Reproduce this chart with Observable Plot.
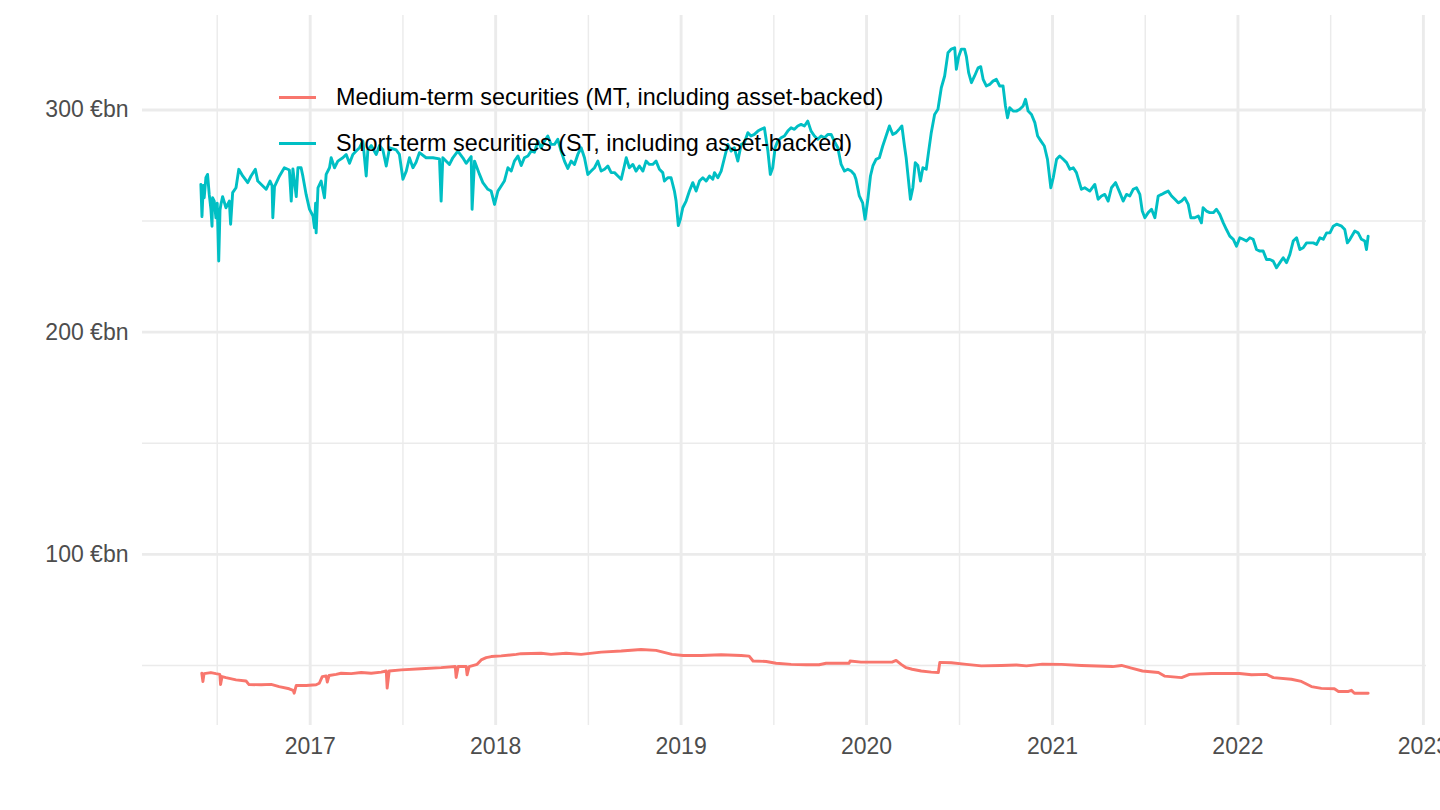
<!DOCTYPE html>
<html>
<head>
<meta charset="utf-8">
<script src="https://cdn.jsdelivr.net/npm/d3@7"></script>
<script src="https://cdn.jsdelivr.net/npm/@observablehq/plot@0.6"></script>
<style>
  html, body { margin: 0; padding: 0; background: #ffffff; }
  #wrap { position: relative; width: 1440px; height: 810px; font-family: "Liberation Sans", Arial, Helvetica, sans-serif; }
  #legend { position: absolute; left: 279px; top: 74px; font-size: 23.4px; color: #000; }
  .item { display: flex; align-items: center; height: 46.5px; }
  .key { width: 37px; height: 2.9px; margin-right: 20px; }
</style>
</head>
<body>
<div id="wrap"><div id="chart"></div><div id="legend"></div></div>
<script>
// Series names and colours
const seriesNames = ["Medium-term securities (MT, including asset-backed)", "Short-term securities (ST, including asset-backed)"];
const seriesColors = ["#F8766D", "#00BFC4"];

// Medium-term securities (€bn), dates as decimal years
const mtYears = [
  2016.417,2016.423,2016.429,2016.466,2016.493,2016.514,2016.518,2016.526,2016.547,2016.601,
  2016.655,2016.671,2016.736,2016.790,2016.833,2016.887,2016.908,2016.914,2016.925,2016.978,
  2017.032,2017.049,2017.065,2017.086,2017.092,2017.102,2017.140,2017.167,2017.221,2017.275,
  2017.329,2017.383,2017.410,2017.415,2017.426,2017.491,2017.598,2017.706,2017.782,2017.787,
  2017.798,2017.841,2017.846,2017.857,2017.900,2017.922,2017.949,2017.976,2018.030,2018.111,
  2018.137,2018.245,2018.299,2018.380,2018.461,2018.569,2018.677,2018.784,2018.865,2018.951,
  2019.011,2019.108,2019.216,2019.324,2019.367,2019.388,2019.459,2019.512,2019.593,2019.674,
  2019.744,2019.782,2019.906,2019.911,2019.970,2020.078,2020.137,2020.159,2020.186,2020.213,
  2020.245,2020.294,2020.348,2020.386,2020.394,2020.456,2020.537,2020.617,2020.725,2020.806,
  2020.860,2020.946,2021.048,2021.156,2021.324,2021.372,2021.426,2021.485,2021.571,2021.604,
  2021.696,2021.739,2021.857,2022.008,2022.073,2022.154,2022.191,2022.288,2022.342,2022.396,
  2022.450,2022.520,2022.542,2022.596,2022.612,2022.628,2022.702
];
const mtValues = [
  46.5,42.8,46.3,46.8,46.3,46,41.4,45,44.5,43.5,
  43,41.4,41.3,41.5,40.5,39.5,38.8,37.5,41,41,
  41.3,42,45,45.3,42.5,45.5,46,46.5,46.3,46.8,
  46.5,47,47.5,39.8,47.5,48,48.5,49,49.5,44.6,
  49.5,49.5,45.8,49.5,50.5,52.5,53.5,54,54.3,55,
  55.3,55.5,55,55.5,55,56,56.5,57.2,56.8,55,
  54.5,54.5,54.8,54.5,54.2,52,51.8,51,50.5,50.3,
  50.3,51,51,52,51.5,51.5,51.5,52.3,50.5,49,
  48.3,47.5,47,46.8,51.4,51.2,50.5,49.8,50,50.2,
  49.8,50.6,50.5,50,49.5,50,48.8,47.5,46.8,45.2,
  44.5,46,46.4,46.4,45.8,46,44.5,43.8,42.8,40.5,
  39.7,39.5,38.3,38.3,38.8,37.5,37.5
];

// Short-term securities (€bn), dates as decimal years
const stYears = [
  2016.412,2016.418,2016.425,2016.430,2016.439,2016.448,2016.457,2016.466,2016.472,2016.475,
  2016.484,2016.493,2016.500,2016.508,2016.515,2016.520,2016.529,2016.547,2016.565,2016.572,
  2016.583,2016.601,2016.616,2016.637,2016.664,2016.682,2016.705,2016.718,2016.745,2016.763,
  2016.784,2016.795,2016.799,2016.808,2016.835,2016.861,2016.888,2016.898,2016.907,2016.925,
  2016.934,2016.951,2016.961,2016.978,2016.996,2017.015,2017.023,2017.029,2017.032,2017.042,
  2017.059,2017.077,2017.086,2017.104,2017.113,2017.131,2017.149,2017.176,2017.194,2017.212,
  2017.230,2017.248,2017.266,2017.284,2017.302,2017.311,2017.329,2017.356,2017.374,2017.392,
  2017.410,2017.428,2017.464,2017.481,2017.500,2017.518,2017.535,2017.554,2017.571,2017.589,
  2017.625,2017.661,2017.697,2017.706,2017.715,2017.751,2017.769,2017.796,2017.823,2017.841,
  2017.868,2017.873,2017.886,2017.913,2017.931,2017.958,2017.976,2017.994,2018.012,2018.030,
  2018.047,2018.066,2018.084,2018.101,2018.120,2018.138,2018.155,2018.174,2018.191,2018.209,
  2018.228,2018.245,2018.263,2018.281,2018.299,2018.317,2018.335,2018.353,2018.371,2018.389,
  2018.407,2018.425,2018.443,2018.461,2018.479,2018.497,2018.515,2018.533,2018.551,2018.569,
  2018.587,2018.605,2018.623,2018.641,2018.659,2018.677,2018.694,2018.704,2018.721,2018.740,
  2018.757,2018.775,2018.794,2018.811,2018.829,2018.847,2018.865,2018.883,2018.901,2018.910,
  2018.928,2018.946,2018.964,2018.973,2018.985,2018.996,2019.009,2019.027,2019.045,2019.063,
  2019.081,2019.099,2019.117,2019.135,2019.153,2019.171,2019.180,2019.198,2019.216,2019.234,
  2019.252,2019.270,2019.287,2019.306,2019.324,2019.341,2019.360,2019.377,2019.395,2019.414,
  2019.431,2019.449,2019.468,2019.481,2019.494,2019.507,2019.521,2019.539,2019.557,2019.575,
  2019.593,2019.611,2019.629,2019.647,2019.665,2019.683,2019.701,2019.719,2019.737,2019.755,
  2019.773,2019.791,2019.809,2019.826,2019.845,2019.863,2019.881,2019.899,2019.917,2019.934,
  2019.943,2019.961,2019.979,2019.992,2020.007,2020.021,2020.034,2020.051,2020.069,2020.087,
  2020.105,2020.123,2020.141,2020.159,2020.177,2020.190,2020.204,2020.213,2020.225,2020.236,
  2020.249,2020.262,2020.276,2020.290,2020.303,2020.321,2020.333,2020.348,2020.366,2020.384,
  2020.402,2020.420,2020.438,2020.456,2020.474,2020.483,2020.495,2020.510,2020.527,2020.537,
  2020.549,2020.564,2020.581,2020.600,2020.614,2020.627,2020.644,2020.662,2020.680,2020.698,
  2020.716,2020.734,2020.747,2020.758,2020.770,2020.788,2020.806,2020.824,2020.842,2020.855,
  2020.869,2020.887,2020.905,2020.920,2020.938,2020.956,2020.973,2020.991,2021.004,2021.022,
  2021.039,2021.058,2021.076,2021.094,2021.112,2021.129,2021.156,2021.174,2021.201,2021.228,
  2021.246,2021.264,2021.282,2021.300,2021.318,2021.340,2021.363,2021.381,2021.399,2021.417,
  2021.435,2021.453,2021.471,2021.484,2021.498,2021.516,2021.534,2021.552,2021.570,2021.588,
  2021.606,2021.624,2021.642,2021.660,2021.678,2021.696,2021.713,2021.732,2021.746,2021.767,
  2021.786,2021.803,2021.812,2021.830,2021.848,2021.867,2021.884,2021.902,2021.921,2021.938,
  2021.956,2021.975,2021.992,2022.010,2022.028,2022.046,2022.064,2022.082,2022.100,2022.118,
  2022.136,2022.154,2022.172,2022.190,2022.208,2022.226,2022.244,2022.262,2022.280,2022.298,
  2022.316,2022.334,2022.352,2022.370,2022.388,2022.406,2022.424,2022.442,2022.460,2022.478,
  2022.496,2022.514,2022.532,2022.559,2022.576,2022.590,2022.604,2022.630,2022.648,2022.666,
  2022.684,2022.693,2022.702
];
const stValues = [
  266.5,252,266,260.5,269.5,271,262,255.4,247.7,260.5,
  259,251.5,258,232,255,257.6,261,256,259,248.6,
  262.8,265,273.3,270.3,267.3,270.3,273.3,268,265.8,264.3,
  268,266,251.5,265.5,270.3,274,273,259,273.5,261,
  274,274,270,262,255.4,252.3,247,258,244.7,265,
  268,260.5,271,274,278.5,274,277,278.5,280,276,
  280,281.5,283,286,270.3,282,284,280,284,282,
  274.8,283,282,280,268.8,272.5,278.5,274,276.5,280.8,
  278.5,278.5,278,259,278.5,275.5,278.5,281.5,278.5,276,
  279,255.3,277,271,267.3,264.3,263.5,257.5,263.5,265.8,
  268,274,272.5,277,279.3,275,278.5,279.3,281.5,281,
  286,283,286,288.3,284.5,284.5,286.8,281.5,277,273.7,
  277,275.5,280,283,278.5,271,272.5,274,277,272.5,
  273.3,274.8,271.8,271.8,270.3,268.8,274.8,278.5,274,275.5,
  272.5,274.8,272.5,277,275.5,275.5,277,273.3,271.8,268,
  269.5,269.5,263.5,259,248,250.8,256,259,263.5,267.3,
  263.5,268,269.5,268,270.3,268.8,271.8,269.5,272.5,278.5,
  284.5,281.5,283,277,284.5,285.3,289.8,288.3,289,290.5,
  291.3,292,281.5,271,274,283,286,287.5,288.3,290.5,
  292,291.3,292.8,293.5,292.8,295,290.5,288.3,286.8,288.3,
  287.5,289,289,286,283,275.5,272.5,273.3,272.5,271,
  268.8,261.3,258.2,250.8,259.8,270.3,274.8,277.8,278.5,283.8,
  288.3,292.8,289,289.8,291.5,292.8,283.8,278.5,268.8,259.8,
  265,276.3,275,268,274,273.3,280.8,289.8,298,300.3,
  310,315.3,325.8,327.4,328,318.3,324,327.4,327.4,324,
  316.8,312.3,315.3,319,319.5,313.8,310.8,311.5,313,313.8,
  310.8,310.8,301.8,296.5,301,299.5,299.5,300.3,301.8,304.8,
  299.5,298,294.3,288.3,286,283.8,277.8,265,269.5,277.8,
  279.3,277.8,276.3,273.3,274,271.8,264.3,265,263.5,266.5,
  259.8,261.3,262,259,265,267.3,262.8,259,262,261.3,
  264.3,265,262,254.5,251.5,253.8,255.3,251.5,261.3,262,
  262.8,263.5,261.3,259.8,258.2,259,260.5,257.5,251.5,251.5,
  252.3,249.2,256,254.5,253.8,253.8,255.3,253,249.2,246.2,
  243.2,241.8,238.7,242.5,241.8,241,242.5,241.8,237.2,236.5,
  236.5,232.7,232.7,232,229,231.3,233.5,231.3,235,241,
  242.5,237.2,238,240.2,240.2,240.2,239.5,242.5,241.8,244.7,
  244.7,247.7,248.6,247.7,246.2,240.2,241.8,245.5,244.7,241.8,
  241,237.2,243.2
];

// Axis breaks
const yMajor = [100, 200, 300];
const yMinor = [50, 150, 250];
const xMajorYears = [2017, 2018, 2019, 2020, 2021, 2022, 2023];
const xMinorYears = [2016.5, 2017.5, 2018.5, 2019.5, 2020.5, 2021.5, 2022.5];

function toDate(y) {
  const yr = Math.floor(y);
  const a = Date.UTC(yr, 0, 1), b = Date.UTC(yr + 1, 0, 1);
  return new Date(a + (y - yr) * (b - a));
}

const mt = mtYears.map((y, i) => ({date: toDate(y), value: mtValues[i]}));
const st = stYears.map((y, i) => ({date: toDate(y), value: stValues[i]}));

// ggplot-style 5% expansion of the data range
const allDates = mt.concat(st).map(d => +d.date);
const allVals = mtValues.concat(stValues);
const [dx0, dx1] = d3.extent(allDates);
const [vy0, vy1] = d3.extent(allVals);
const ex = (dx1 - dx0) * 0.05, ey = (vy1 - vy0) * 0.05;

const chart = Plot.plot({
  width: 1440,
  height: 810,
  marginLeft: 142,
  marginRight: 14,
  marginTop: 15,
  marginBottom: 85,
  style: {fontFamily: '"Liberation Sans", Arial, Helvetica, sans-serif', background: "#ffffff"},
  x: {type: "utc", domain: [new Date(dx0 - ex), new Date(dx1 + ex)]},
  y: {domain: [vy0 - ey, vy1 + ey]},
  marks: [
    Plot.ruleY(yMinor, {stroke: "#EBEBEB", strokeWidth: 1.45}),
    Plot.ruleX(xMinorYears.map(toDate), {stroke: "#EBEBEB", strokeWidth: 1.45}),
    Plot.ruleY(yMajor, {stroke: "#EBEBEB", strokeWidth: 2.9}),
    Plot.ruleX(xMajorYears.map(toDate), {stroke: "#EBEBEB", strokeWidth: 2.9}),
    Plot.lineY(mt, {x: "date", y: "value", stroke: seriesColors[0], strokeWidth: 2.9}),
    Plot.lineY(st, {x: "date", y: "value", stroke: seriesColors[1], strokeWidth: 2.9}),
    Plot.axisY(yMajor, {tickSize: 0, tickPadding: 14, tickFormat: d => `${d} €bn`, fontSize: 23, fill: "#4D4D4D", label: null}),
    Plot.axisX(xMajorYears.map(toDate), {tickSize: 0, tickPadding: 12, tickFormat: d3.utcFormat("%Y"), fontSize: 23, fill: "#4D4D4D", label: null})
  ]
});
document.getElementById("chart").appendChild(chart);

// Legend (inside the panel, top-left, like the reference)
const legend = d3.select("#legend");
seriesNames.forEach((name, i) => {
  const item = legend.append("div").attr("class", "item");
  item.append("div").attr("class", "key").style("background", seriesColors[i]);
  item.append("span").text(name);
});
</script>
</body>
</html>
